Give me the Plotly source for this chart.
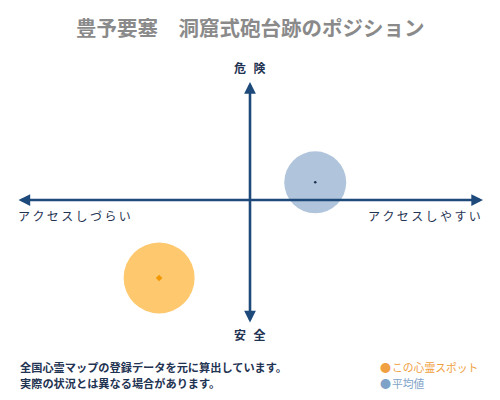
import plotly.graph_objects as go

# Data
series_names = ["この心霊スポット", "平均値"]
x_access = [-0.39, 0.28]      # negative = hard to access, positive = easy
y_danger = [-0.66, 0.15]      # positive = dangerous, negative = safe
marker_sizes = [71, 62]
fill_colors = ["rgba(253,190,85,0.85)", "rgba(150,177,208,0.75)"]
dot_colors = ["#f39800", "#1f3050"]

title_text = "豊予要塞　洞窟式砲台跡のポジション"
axis_top, axis_bottom = "危 険", "安 全"
axis_left, axis_right = "アクセスしづらい", "アクセスしやすい"
notes = ["全国心霊マップの登録データを元に算出しています。", "実際の状況とは異なる場合があります。"]

FONT = "Noto Sans CJK JP"
NAVY = "#1d4a7a"
TEXT_NAVY = "#1f3352"

def spaced(s, sep="\u2009"):
    return sep.join(list(s))

fig = go.Figure()
for i in range(len(series_names)):
    fig.add_trace(go.Scatter(
        x=[x_access[i]], y=[y_danger[i]], mode="markers",
        marker=dict(size=marker_sizes[i], color=fill_colors[i], line=dict(width=0)),
        showlegend=False, hoverinfo="skip"))
    fig.add_trace(go.Scatter(
        x=[x_access[i]], y=[y_danger[i]], mode="markers",
        marker=dict(size=5 if i == 0 else 2.5, color=dot_colors[i],
                    symbol="diamond" if i == 0 else "circle"),
        showlegend=False, hoverinfo="skip"))

anns = []
# axis arrows
anns.append(dict(x=1, y=0, ax=-1, ay=0, xref="x", yref="y", axref="x", ayref="y",
                 showarrow=True, arrowhead=2, arrowside="end+start", arrowsize=0.9,
                 arrowwidth=2.6, arrowcolor=NAVY, text=""))
anns.append(dict(x=0, y=1, ax=0, ay=-1.05, xref="x", yref="y", axref="x", ayref="y",
                 showarrow=True, arrowhead=2, arrowside="end+start", arrowsize=0.9,
                 arrowwidth=2.6, arrowcolor=NAVY, text=""))

OFF = 8  # page body margin
W, H = 492, 392
L, R, T, B = 9, 17, 74, 76
pw, ph = W - L - R, H - T - B
def px(xs): return (xs - OFF - L) / pw
def py(ys): return (H - B - (ys - OFF)) / ph

def txt(text, x, y, size, color, xanchor="center", bold=False):
    t = f"<b>{text}</b>" if bold else text
    anns.append(dict(text=t, x=px(x), y=py(y), xref="paper", yref="paper", showarrow=False,
                     xanchor=xanchor, yanchor="middle",
                     font=dict(family=FONT, size=size, color=color)))

txt(title_text, 250, 27, 20.5, "#8a8a8a", bold=True)
txt(spaced(axis_top), 250, 68, 12, TEXT_NAVY, bold=True)
txt(spaced(axis_bottom), 250, 334, 12, TEXT_NAVY, bold=True)
txt(spaced(axis_left), 16, 215, 12, TEXT_NAVY, xanchor="left")
txt(spaced(axis_right), 483, 215, 12, TEXT_NAVY, xanchor="right")
txt(notes[0], 18, 367, 11.2, TEXT_NAVY, xanchor="left", bold=True)
txt(notes[1], 18, 383, 11.2, TEXT_NAVY, xanchor="left", bold=True)
txt("●", 378, 367, 11, "#f0a040", xanchor="left")
txt(series_names[0], 390, 367, 10.8, "#f0a040", xanchor="left")
txt("●", 378, 383, 11, "#7fa3c8", xanchor="left")
txt(series_names[1], 390, 383, 10.8, "#7fa3c8", xanchor="left")

fig.update_layout(
    width=W, height=H, margin=dict(l=L, r=R, t=T, b=B),
    paper_bgcolor="white", plot_bgcolor="white",
    xaxis=dict(range=[-1, 1], visible=False, fixedrange=True),
    yaxis=dict(range=[-1.05, 1], visible=False, fixedrange=True),
    annotations=anns, showlegend=False,
)
fig.write_html("out.html")
